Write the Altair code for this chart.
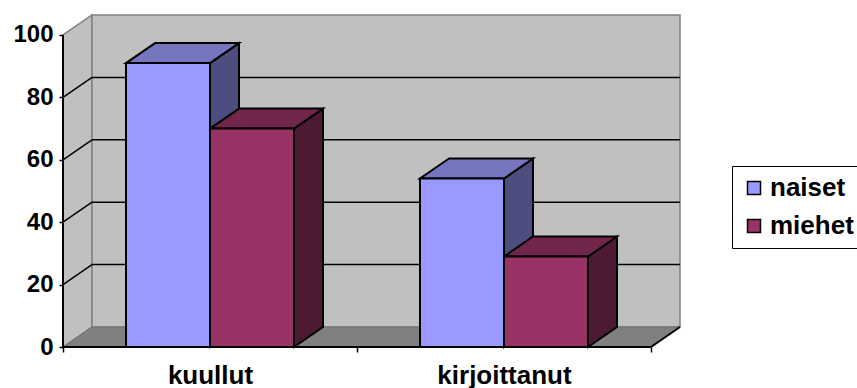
import altair as alt
import pandas as pd

# ---------------- data ----------------
categories = ["kuullut", "kirjoittanut"]
series = ["naiset", "miehet"]
naiset = [91, 54]
miehet = [70, 29]
y_ticks = [0, 20, 40, 60, 80, 100]

front_colors = ["#9999FF", "#993366"]
top_colors = ["#7676BE", "#73264C"]
side_colors = ["#4D4D80", "#4D1A33"]

# ---------------- geometry (derived) ----------------
NCAT = len(categories)
DX = 29 / 294          # depth offset in category units
DY = 6.4               # depth offset in value units
BW = 2 / 7             # bar width in category units
YMAX = max(y_ticks)
FONT = "Liberation Sans"

values = {"naiset": naiset, "miehet": miehet}
fronts, sides, tops = [], [], []
for ci, cat in enumerate(categories):
    for si, s in enumerate(series):
        v = values[s][ci]
        left = ci + 0.5 - BW + si * BW
        right = left + BW
        bid = f"{cat}-{s}"
        fronts.append(dict(bar=bid, series=s, x=left, x2=right, y=0, y2=v))
        sides.append(dict(bar=bid, fill=side_colors[si], x=right, y=0, y2=v))
        sides.append(dict(bar=bid, fill=side_colors[si], x=right + DX, y=DY, y2=v + DY))
        tops.append(dict(bar=bid, fill=top_colors[si], y=v, x=left, x2=right))
        tops.append(dict(bar=bid, fill=top_colors[si], y=v + DY, x=left + DX, x2=right + DX))

df_front = pd.DataFrame(fronts)
df_side = pd.DataFrame(sides)
df_top = pd.DataFrame(tops)

df_leftwall = pd.DataFrame([dict(x=0, y=0, y2=YMAX), dict(x=DX, y=DY, y2=YMAX + DY)])
df_backwall = pd.DataFrame([dict(x=DX, x2=NCAT + DX, y=DY, y2=YMAX + DY)])
df_floor = pd.DataFrame([dict(y=0, x=0, x2=NCAT), dict(y=DY, x=DX, x2=NCAT + DX)])

grid_rows = []
for v in y_ticks[1:-1]:
    grid_rows.append(dict(x=0, y=v, x2=DX, y2=v + DY))
    grid_rows.append(dict(x=DX, y=v + DY, x2=NCAT + DX, y2=v + DY))
df_grid = pd.DataFrame(grid_rows)

df_axislines = pd.DataFrame([
    dict(x=0, y=0, x2=NCAT, y2=0),
    dict(x=0, y=0, x2=0, y2=YMAX),
    dict(x=NCAT, y=0, x2=NCAT + DX, y2=DY),
])

xs = alt.Scale(domain=[0, NCAT + DX], nice=False, zero=False)
ys = alt.Scale(domain=[0, YMAX + DY], nice=False, zero=False)

label_expr = ""
for ci, cat in enumerate(categories):
    label_expr += f"datum.value === {ci + 0.5} ? '{cat}' : "
label_expr += "''"

x_axis = alt.Axis(
    values=[i * 0.5 for i in range(2 * NCAT + 1)],
    labelExpr=label_expr,
    domain=False, grid=False, title=None,
    tickSize=5, tickWidth=1.5,
    tickColor={"condition": {"test": "datum.value % 1 === 0", "value": "black"}, "value": "transparent"},
    labelFont=FONT, labelFontSize=26, labelFontWeight="bold", labelColor="black",
    labelPadding=10, labelFlush=False, labelOverlap=False, zindex=1,
)
y_axis = alt.Axis(
    values=y_ticks, domain=False, grid=False, title=None,
    tickSize=4, tickWidth=1.5, tickColor="black",
    labelFont=FONT, labelFontSize=24, labelFontWeight="bold", labelColor="black",
    labelPadding=6, zindex=1,
)


def X(field):
    return alt.X(field, scale=xs, axis=x_axis)


def Y(field):
    return alt.Y(field, scale=ys, axis=y_axis)


left_wall = alt.Chart(df_leftwall).mark_area(
    orient="vertical", fill="#C0C0C0", stroke="#808080", strokeWidth=1.5
).encode(x=X("x:Q"), y=Y("y:Q"), y2="y2:Q")

back_wall = alt.Chart(df_backwall).mark_rect(
    fill="#C0C0C0", stroke="#808080", strokeWidth=1.5
).encode(x=X("x:Q"), x2="x2:Q", y=Y("y:Q"), y2="y2:Q")

floor = alt.Chart(df_floor).mark_area(
    orient="horizontal", fill="#808080", stroke="#707070", strokeWidth=1
).encode(y=Y("y:Q"), x=X("x:Q"), x2="x2:Q")

grid = alt.Chart(df_grid).mark_rule(color="black", strokeWidth=1.5).encode(
    x=X("x:Q"), x2="x2:Q", y=Y("y:Q"), y2="y2:Q"
)

side_faces = alt.Chart(df_side).mark_area(
    orient="vertical", stroke="black", strokeWidth=2, strokeJoin="miter"
).encode(
    x=X("x:Q"), y=Y("y:Q"), y2="y2:Q",
    fill=alt.Fill("fill:N", scale=None),
    detail="bar:N",
)

top_faces = alt.Chart(df_top).mark_area(
    orient="horizontal", stroke="black", strokeWidth=2, strokeJoin="miter"
).encode(
    y=Y("y:Q"), x=X("x:Q"), x2="x2:Q",
    fill=alt.Fill("fill:N", scale=None),
    detail="bar:N",
)

front_faces = alt.Chart(df_front).mark_rect(
    stroke="black", strokeWidth=2, opacity=1
).encode(
    x=X("x:Q"), x2="x2:Q", y=Y("y:Q"), y2="y2:Q",
    color=alt.Color(
        "series:N",
        scale=alt.Scale(domain=series, range=front_colors),
        legend=alt.Legend(
            title=None, orient="none", legendX=669, legendY=151,
            symbolType="square", symbolSize=169, symbolStrokeColor="black",
            symbolStrokeWidth=1.5, symbolOpacity=1,
            labelFont=FONT, labelFontSize=26, labelFontWeight="bold", labelColor="black",
            labelOffset=3, padding=9, rowPadding=12,
            strokeColor="black", fillColor="white",
        ),
    ),
)

axis_lines = alt.Chart(df_axislines).mark_rule(color="black", strokeWidth=2).encode(
    x=X("x:Q"), x2="x2:Q", y=Y("y:Q"), y2="y2:Q"
)

chart = alt.layer(
    left_wall, back_wall, floor, grid, side_faces, top_faces, front_faces, axis_lines
).properties(
    width=617, height=332,
    autosize=alt.AutoSizeParams(type="none"),
    padding={"left": 63, "top": 15, "right": 177, "bottom": 41},
    background="white",
).configure_view(strokeWidth=0)

chart.save("out.html", embed_options={"renderer": "svg", "actions": False})
